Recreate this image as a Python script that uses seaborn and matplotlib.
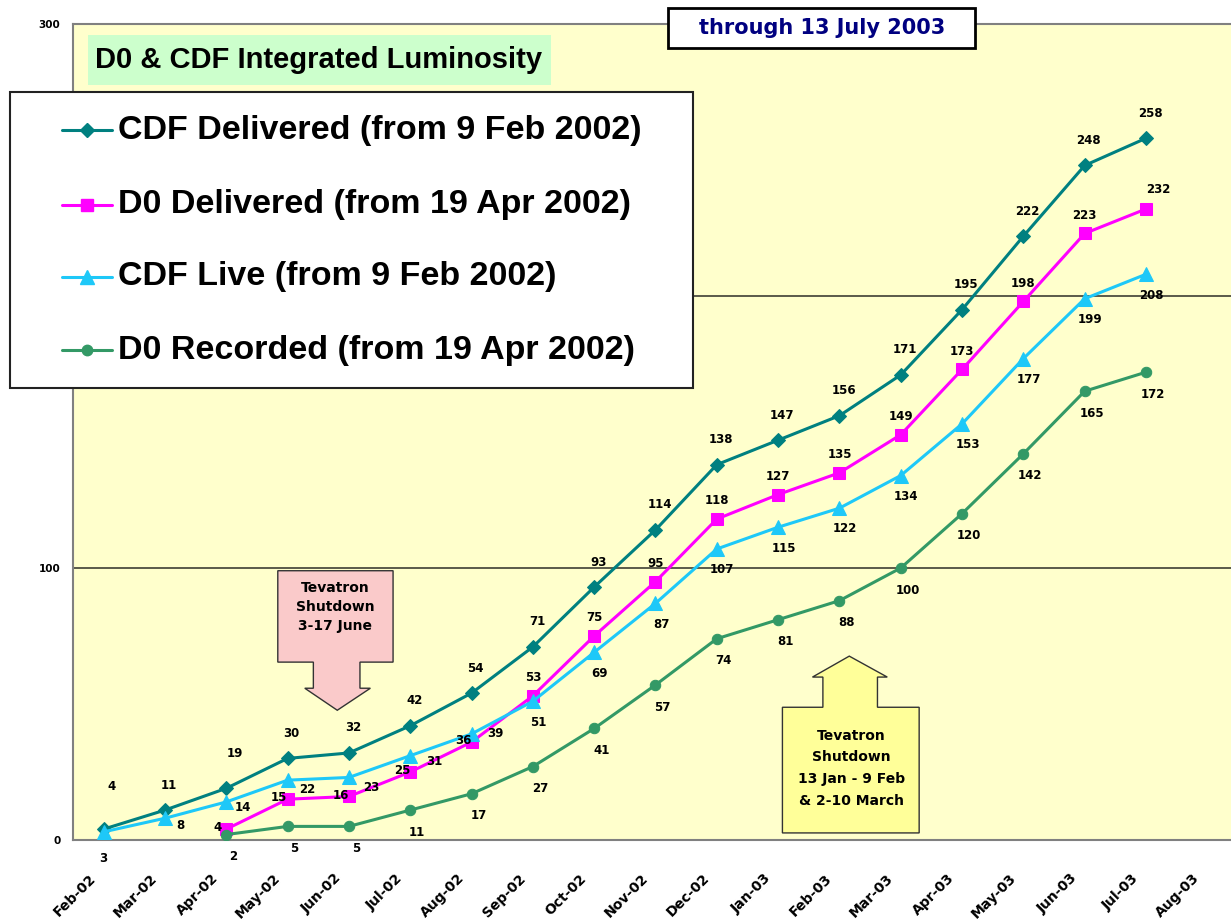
import numpy as np
import pandas as pd
import matplotlib
matplotlib.use('Agg')
import matplotlib.pyplot as plt
import seaborn as sns
from matplotlib.patches import Rectangle, Polygon
from matplotlib.lines import Line2D

W, H = 1231, 924

# data
months = ['Feb-02', 'Mar-02', 'Apr-02', 'May-02', 'Jun-02', 'Jul-02', 'Aug-02', 'Sep-02',
          'Oct-02', 'Nov-02', 'Dec-02', 'Jan-03', 'Feb-03', 'Mar-03', 'Apr-03', 'May-03',
          'Jun-03', 'Jul-03', 'Aug-03']
cdf_delivered = [4, 11, 19, 30, 32, 42, 54, 71, 93, 114, 138, 147, 156, 171, 195, 222, 248, 258]
d0_delivered = [4, 15, 16, 25, 36, 53, 75, 95, 118, 127, 135, 149, 173, 198, 223, 232]
cdf_live = [3, 8, 14, 22, 23, 31, 39, 51, 69, 87, 107, 115, 122, 134, 153, 177, 199, 208]
d0_recorded = [2, 5, 5, 11, 17, 27, 41, 57, 74, 81, 88, 100, 120, 142, 165, 172]

labels = ['CDF Delivered (from 9 Feb 2002)', 'D0 Delivered (from 19 Apr 2002)',
          'CDF Live (from 9 Feb 2002)', 'D0 Recorded (from 19 Apr 2002)']
starts = [0, 2, 0, 2]   # first month index of each series
colors = ['#008080', '#FF00FF', '#1EC8F8', '#339966']
markers = ['D', 's', '^', 'o']
msizes = [7, 8.5, 9.5, 7.5]

sns.set_style('white')
plt.rcParams['font.family'] = ['DejaVu Sans']
plt.rcParams['text.color'] = 'black'
plt.rcParams['xtick.labelcolor'] = 'black'
plt.rcParams['ytick.labelcolor'] = 'black'

fig = plt.figure(figsize=(W / 100, H / 100), dpi=100)
fig.patch.set_facecolor('white')
ax = fig.add_axes([73 / W, 84 / H, 1165 / W, 816 / H])
ax.set_facecolor('#FFFFCC')

all_vals = [cdf_delivered, d0_delivered, cdf_live, d0_recorded]
for name, vals, st, c, m, ms in zip(labels, all_vals, starts, colors, markers, msizes):
    df = pd.DataFrame({'month': np.arange(st, st + len(vals)), 'lum': vals})
    sns.lineplot(data=df, x='month', y='lum', color=c, marker=m, markersize=ms,
                 markeredgecolor=c, linewidth=2.2, ax=ax, zorder=3)

# data labels (offsets in points)
def lab_offsets(i, k):
    if i == 0:
        return {0: (6, 31), 2: (6, 25)}.get(k, (3, 18))
    if i == 1:
        if k < 5:
            return (-6, 1)
        if k == len(d0_delivered) - 1:
            return (9, 14)
        return (0, 13)
    if i == 2:
        early = [(0, -19), (11, -5), (12, -4), (14, -7), (16, -7), (17, -4), (17, 0)]
        return early[k] if k < len(early) else (4, -15)
    return (5, -16)

for i, (vals, st) in enumerate(zip(all_vals, starts)):
    for k, v in enumerate(vals):
        ax.annotate(str(v), (st + k, v), xytext=lab_offsets(i, k), textcoords='offset points',
                    ha='center', va='center', fontsize=8.5, fontweight='bold', color='black',
                    zorder=4)

ax.set_xlim(-0.5, len(months) - 0.5)
ax.set_ylim(0, 300)
ax.set_xlabel('')
ax.set_ylabel('')

# month labels: Excel puts them a bit left of the category centre
ax.set_xticks(range(len(months)))
ax.set_xticklabels([])
for i, mname in enumerate(months):
    ax.annotate(mname, (i, 0), xycoords=('data', 'axes fraction'), xytext=(-7, -26),
                textcoords='offset points', rotation=45, ha='right', va='center',
                rotation_mode='anchor', fontsize=10, fontweight='bold', annotation_clip=False)
ax.set_xticks(np.arange(-0.5, len(months)), minor=True)
ax.tick_params(axis='x', which='major', length=0)
ax.tick_params(axis='x', which='minor', length=6, direction='out', color='#808080', width=1.2)

ax.set_yticks([0, 100, 200, 300])
ax.set_yticklabels(['0', '100', '200', '300'], fontsize=7.5, fontweight='bold')
ax.tick_params(axis='y', length=6, direction='out', color='#808080', width=1.2, pad=3)

ax.yaxis.grid(True, color='#4d4d40', linewidth=1.3)
ax.xaxis.grid(False)
ax.set_axisbelow(True)
for s in ['left', 'bottom', 'top', 'right']:
    ax.spines[s].set_visible(True)
    ax.spines[s].set_color('#808080')
    ax.spines[s].set_linewidth(1.5)

# shutdown callouts
pink = Polygon([(2.84, 99), (4.72, 99), (4.72, 65.4), (4.18, 65.4), (4.18, 55.8), (4.35, 55.8),
                (3.81, 47.7), (3.28, 55.8), (3.42, 55.8), (3.42, 65.4), (2.84, 65.4)],
               closed=True, facecolor='#FACACA', edgecolor='#333333', linewidth=1.0, zorder=5)
ax.add_patch(pink)
ax.text(3.78, 85.6, 'Tevatron\nShutdown\n3-17 June', ha='center', va='center', fontsize=10,
        fontweight='bold', linespacing=1.45, zorder=6)

yel = Polygon([(11.07, 2.6), (13.30, 2.6), (13.30, 48.8), (12.62, 48.8), (12.62, 59.9),
               (12.78, 59.9), (12.16, 67.6), (11.56, 59.9), (11.73, 59.9), (11.73, 48.8),
               (11.07, 48.8)],
              closed=True, facecolor='#FFFF99', edgecolor='#333333', linewidth=1.0, zorder=5)
ax.add_patch(yel)
ax.text(12.19, 26.4, 'Tevatron\nShutdown\n13 Jan - 9 Feb\n& 2-10 March', ha='center',
        va='center', fontsize=10, fontweight='bold', linespacing=1.7, zorder=6)


def fpx(x, y):
    return (x / W, 1 - y / H)


# title box
fig.patches.append(Rectangle(fpx(88, 85), 463 / W, 50 / H, transform=fig.transFigure,
                             facecolor='#CCFFCC', edgecolor='none', zorder=5))
fig.text(*fpx(95, 60), 'D0 & CDF Integrated Luminosity', ha='left', va='center',
         fontsize=21, fontweight='bold', family=['Liberation Sans', 'DejaVu Sans'], zorder=6)

# date box
fig.patches.append(Rectangle(fpx(668, 48), 307 / W, 40 / H, transform=fig.transFigure,
                             facecolor='white', edgecolor='black', linewidth=2, zorder=5))
fig.text(*fpx(822, 28), 'through 13 July 2003', ha='center', va='center', fontsize=15,
         fontweight='bold', color='#000080', zorder=6)

# legend box drawn by hand to match the original layout
fig.patches.append(Rectangle(fpx(10, 388), 683 / W, 296 / H, transform=fig.transFigure,
                             facecolor='white', edgecolor='#222222', linewidth=1.5, zorder=5))
rows = [130, 205, 277, 350]
for name, c, m, ms, ry in zip(labels, colors, markers, msizes, rows):
    x0, y0 = fpx(62, ry)
    x1, _ = fpx(112, ry)
    fig.lines.append(Line2D([x0, x1], [y0, y0], transform=fig.transFigure, color=c,
                            linewidth=2.2, zorder=6))
    fig.lines.append(Line2D([(x0 + x1) / 2], [y0], transform=fig.transFigure, color=c,
                            marker=m, markersize=ms, markeredgecolor=c, zorder=7))
    fig.text(*fpx(118, ry), name, ha='left', va='center', fontsize=24.5, fontweight='bold',
             family=['Liberation Sans', 'DejaVu Sans'], zorder=7)

fig.savefig('out.png', dpi=100)
